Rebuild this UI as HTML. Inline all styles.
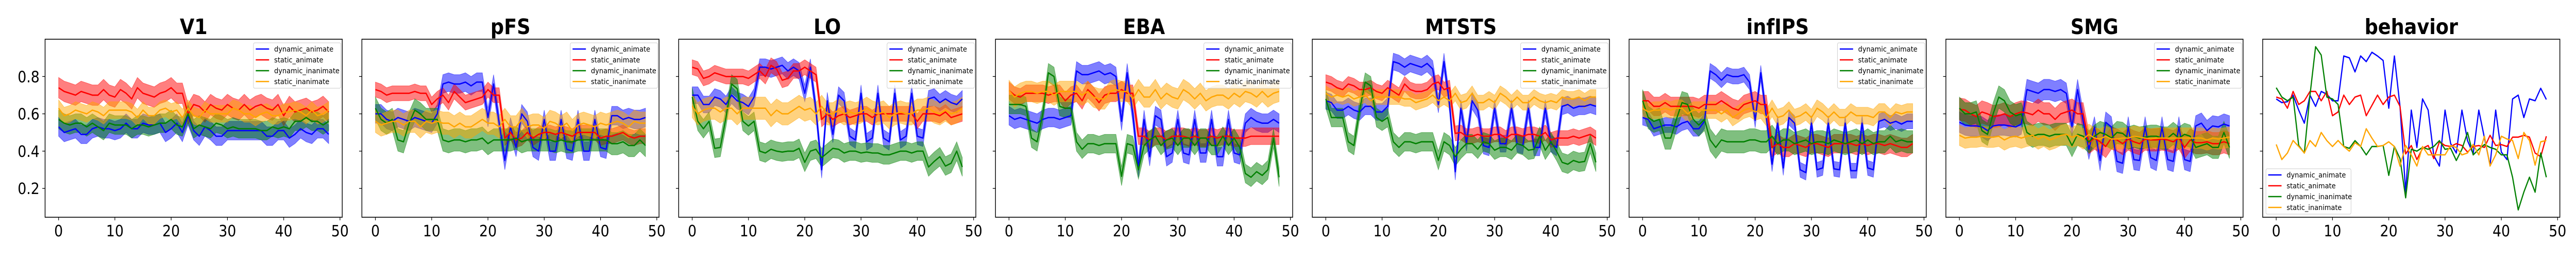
<!DOCTYPE html>
<html><head><meta charset="utf-8"><meta name="viewport" content="width=5600, initial-scale=1"><style>
html,body{margin:0;padding:0;background:#fff;width:100%;height:100%;overflow:hidden}
svg{display:block;width:100vw;height:100vh}
text{font-family:"DejaVu Sans","Liberation Sans",sans-serif}
</style></head><body>
<svg id="c" viewBox="0 0 5600 500" preserveAspectRatio="none" xmlns="http://www.w3.org/2000/svg"></svg>
<script>
const panelNames = ["V1","pFS","LO","EBA","MTSTS","infIPS","SMG","behavior"];
const seriesNames = ["dynamic_animate","static_animate","dynamic_inanimate","static_inanimate"];
const seriesColors = ["#0000ff","#ff0000","#008000","#ffa500"];
const xTicks = [0,10,20,30,40,50];
const yTicks = [0.2,0.4,0.6,0.8];
const yTickLabels = ["0.2","0.4","0.6","0.8"];

const V1_blue=[0.53,0.50,0.51,0.52,0.49,0.49,0.52,0.53,0.52,0.52,0.51,0.52,0.55,0.52,0.52,0.55,0.54,0.54,0.55,0.50,0.52,0.55,0.50,0.59,0.51,0.48,0.53,0.51,0.48,0.48,0.51,0.51,0.51,0.51,0.51,0.51,0.51,0.48,0.48,0.51,0.51,0.47,0.49,0.52,0.50,0.49,0.52,0.52,0.49];
const V1_red=[0.74,0.72,0.71,0.70,0.72,0.71,0.70,0.70,0.73,0.70,0.69,0.73,0.71,0.68,0.74,0.71,0.70,0.69,0.71,0.72,0.74,0.71,0.71,0.60,0.65,0.64,0.61,0.65,0.63,0.62,0.65,0.63,0.62,0.65,0.62,0.64,0.65,0.63,0.62,0.65,0.59,0.64,0.61,0.62,0.63,0.61,0.62,0.64,0.61];
const V1_green=[0.57,0.55,0.54,0.55,0.55,0.53,0.55,0.53,0.51,0.55,0.54,0.54,0.54,0.52,0.54,0.54,0.53,0.54,0.55,0.55,0.57,0.54,0.53,0.60,0.52,0.54,0.53,0.52,0.55,0.54,0.52,0.53,0.52,0.52,0.52,0.52,0.51,0.51,0.53,0.52,0.53,0.52,0.56,0.56,0.58,0.56,0.56,0.54,0.56];
const V1_orange=[0.63,0.59,0.60,0.62,0.61,0.60,0.62,0.61,0.59,0.62,0.62,0.62,0.62,0.61,0.58,0.62,0.59,0.59,0.62,0.63,0.61,0.62,0.58,0.63,0.59,0.58,0.62,0.60,0.60,0.60,0.60,0.63,0.62,0.60,0.60,0.58,0.60,0.61,0.59,0.59,0.61,0.61,0.62,0.61,0.59,0.62,0.59,0.60,0.62];

const pFS_blue=[0.60,0.60,0.57,0.56,0.58,0.57,0.56,0.58,0.57,0.56,0.55,0.60,0.76,0.77,0.76,0.76,0.77,0.75,0.77,0.77,0.58,0.76,0.55,0.35,0.53,0.42,0.60,0.56,0.42,0.40,0.57,0.40,0.40,0.57,0.41,0.40,0.57,0.40,0.40,0.57,0.42,0.41,0.59,0.59,0.57,0.58,0.57,0.57,0.58];
const pFS_red=[0.73,0.72,0.70,0.71,0.71,0.71,0.71,0.72,0.71,0.71,0.65,0.68,0.70,0.66,0.72,0.69,0.66,0.67,0.68,0.69,0.73,0.70,0.70,0.47,0.50,0.46,0.47,0.50,0.47,0.49,0.50,0.50,0.49,0.50,0.49,0.48,0.50,0.50,0.50,0.50,0.47,0.48,0.48,0.49,0.50,0.48,0.47,0.48,0.48];
const pFS_green=[0.63,0.57,0.55,0.57,0.46,0.45,0.55,0.62,0.60,0.57,0.57,0.57,0.46,0.45,0.46,0.46,0.45,0.46,0.46,0.47,0.44,0.46,0.46,0.46,0.46,0.47,0.45,0.46,0.46,0.46,0.46,0.46,0.45,0.46,0.45,0.45,0.46,0.46,0.46,0.46,0.46,0.46,0.44,0.44,0.45,0.43,0.43,0.46,0.43];
const pFS_orange=[0.56,0.54,0.55,0.56,0.56,0.54,0.56,0.56,0.53,0.56,0.55,0.56,0.55,0.55,0.53,0.55,0.53,0.53,0.55,0.57,0.55,0.55,0.53,0.57,0.53,0.53,0.57,0.53,0.54,0.54,0.52,0.56,0.55,0.53,0.55,0.51,0.54,0.55,0.54,0.53,0.55,0.54,0.55,0.56,0.55,0.53,0.56,0.55,0.55];

const LO_blue=[0.70,0.70,0.65,0.65,0.69,0.68,0.65,0.70,0.67,0.66,0.64,0.69,0.85,0.85,0.84,0.85,0.86,0.83,0.85,0.83,0.71,0.85,0.62,0.30,0.67,0.49,0.70,0.67,0.48,0.46,0.71,0.45,0.47,0.71,0.47,0.45,0.71,0.46,0.48,0.71,0.48,0.47,0.68,0.69,0.66,0.68,0.66,0.65,0.68];
const LO_red=[0.85,0.84,0.79,0.80,0.82,0.81,0.80,0.80,0.80,0.80,0.79,0.81,0.83,0.80,0.86,0.84,0.78,0.79,0.83,0.83,0.85,0.83,0.81,0.57,0.60,0.57,0.59,0.60,0.58,0.59,0.60,0.60,0.58,0.60,0.60,0.60,0.60,0.60,0.60,0.60,0.56,0.60,0.60,0.60,0.59,0.61,0.58,0.59,0.60];
const LO_green=[0.69,0.56,0.52,0.56,0.415,0.42,0.58,0.76,0.735,0.56,0.535,0.56,0.40,0.39,0.41,0.40,0.395,0.40,0.40,0.415,0.34,0.40,0.41,0.365,0.39,0.415,0.41,0.39,0.40,0.40,0.39,0.395,0.39,0.39,0.38,0.38,0.39,0.40,0.40,0.39,0.40,0.40,0.315,0.345,0.37,0.32,0.335,0.40,0.315];
const LO_orange=[0.64,0.60,0.62,0.63,0.63,0.61,0.63,0.63,0.60,0.63,0.63,0.63,0.63,0.63,0.59,0.62,0.60,0.60,0.62,0.64,0.62,0.63,0.60,0.64,0.60,0.60,0.62,0.60,0.61,0.60,0.61,0.63,0.61,0.60,0.61,0.58,0.60,0.61,0.60,0.60,0.62,0.62,0.63,0.61,0.60,0.62,0.60,0.61,0.63];

const EBA_blue=[0.59,0.57,0.58,0.57,0.56,0.55,0.57,0.58,0.58,0.57,0.58,0.59,0.83,0.81,0.81,0.82,0.83,0.81,0.82,0.80,0.56,0.82,0.60,0.31,0.57,0.37,0.59,0.57,0.37,0.39,0.57,0.39,0.38,0.57,0.39,0.39,0.57,0.37,0.37,0.57,0.39,0.38,0.55,0.58,0.56,0.55,0.55,0.57,0.55];
const EBA_red=[0.725,0.70,0.69,0.71,0.71,0.71,0.71,0.70,0.71,0.71,0.67,0.70,0.71,0.67,0.73,0.70,0.66,0.70,0.71,0.71,0.73,0.71,0.71,0.48,0.48,0.46,0.48,0.48,0.46,0.48,0.48,0.48,0.47,0.48,0.47,0.47,0.48,0.47,0.48,0.48,0.47,0.47,0.47,0.48,0.48,0.48,0.48,0.48,0.48];
const EBA_green=[0.65,0.65,0.65,0.64,0.47,0.45,0.60,0.82,0.80,0.64,0.63,0.63,0.45,0.41,0.44,0.44,0.43,0.44,0.44,0.44,0.265,0.44,0.43,0.30,0.43,0.46,0.48,0.43,0.46,0.47,0.43,0.47,0.47,0.43,0.47,0.47,0.43,0.43,0.48,0.43,0.47,0.42,0.28,0.26,0.29,0.27,0.30,0.47,0.26];
const EBA_orange=[0.725,0.69,0.71,0.72,0.72,0.71,0.72,0.72,0.70,0.72,0.72,0.72,0.72,0.70,0.72,0.69,0.68,0.68,0.72,0.73,0.72,0.72,0.68,0.73,0.69,0.69,0.73,0.68,0.71,0.69,0.68,0.73,0.71,0.68,0.71,0.67,0.69,0.70,0.70,0.68,0.71,0.69,0.72,0.71,0.69,0.72,0.69,0.71,0.72];

const MTSTS_blue=[0.67,0.66,0.62,0.62,0.64,0.62,0.61,0.64,0.64,0.61,0.61,0.64,0.88,0.87,0.85,0.87,0.86,0.85,0.87,0.84,0.65,0.88,0.65,0.29,0.63,0.445,0.67,0.62,0.43,0.42,0.63,0.44,0.44,0.63,0.44,0.43,0.63,0.42,0.42,0.63,0.44,0.42,0.64,0.65,0.63,0.64,0.64,0.65,0.64];
const MTSTS_red=[0.77,0.76,0.74,0.73,0.76,0.75,0.73,0.73,0.74,0.72,0.71,0.74,0.72,0.70,0.76,0.73,0.72,0.72,0.73,0.76,0.77,0.73,0.74,0.495,0.50,0.48,0.48,0.49,0.48,0.48,0.49,0.49,0.47,0.49,0.49,0.48,0.49,0.49,0.48,0.50,0.46,0.47,0.47,0.47,0.48,0.47,0.48,0.49,0.47];
const MTSTS_green=[0.68,0.58,0.58,0.58,0.45,0.43,0.62,0.77,0.75,0.58,0.56,0.58,0.45,0.42,0.45,0.45,0.44,0.45,0.45,0.45,0.35,0.45,0.43,0.37,0.41,0.44,0.44,0.41,0.45,0.44,0.405,0.42,0.42,0.405,0.44,0.43,0.405,0.41,0.48,0.405,0.45,0.40,0.34,0.33,0.35,0.34,0.345,0.44,0.34];
const MTSTS_orange=[0.71,0.69,0.70,0.69,0.70,0.68,0.69,0.70,0.67,0.69,0.69,0.69,0.69,0.69,0.68,0.68,0.66,0.67,0.68,0.70,0.67,0.69,0.67,0.71,0.66,0.67,0.71,0.66,0.66,0.68,0.66,0.71,0.69,0.66,0.69,0.66,0.66,0.69,0.67,0.66,0.67,0.66,0.69,0.68,0.68,0.69,0.67,0.69,0.69];

const infIPS_blue=[0.58,0.57,0.52,0.53,0.54,0.54,0.53,0.55,0.56,0.52,0.52,0.56,0.83,0.81,0.78,0.81,0.80,0.80,0.81,0.77,0.565,0.82,0.58,0.33,0.55,0.31,0.58,0.55,0.30,0.285,0.55,0.30,0.31,0.55,0.305,0.30,0.55,0.295,0.295,0.55,0.31,0.30,0.56,0.57,0.55,0.56,0.545,0.56,0.56];
const infIPS_red=[0.67,0.67,0.64,0.64,0.66,0.64,0.64,0.64,0.64,0.64,0.63,0.65,0.65,0.65,0.67,0.65,0.63,0.62,0.65,0.66,0.67,0.65,0.65,0.42,0.44,0.42,0.42,0.44,0.43,0.42,0.44,0.44,0.43,0.42,0.44,0.44,0.44,0.44,0.43,0.44,0.43,0.44,0.44,0.43,0.44,0.43,0.42,0.42,0.44];
const infIPS_green=[0.67,0.58,0.56,0.57,0.47,0.47,0.57,0.66,0.65,0.57,0.54,0.57,0.46,0.42,0.46,0.45,0.45,0.45,0.45,0.46,0.46,0.45,0.45,0.48,0.44,0.46,0.46,0.44,0.45,0.46,0.44,0.45,0.45,0.44,0.46,0.45,0.44,0.45,0.46,0.44,0.46,0.44,0.45,0.45,0.48,0.45,0.46,0.45,0.45];
const infIPS_orange=[0.63,0.61,0.62,0.62,0.63,0.62,0.63,0.63,0.60,0.62,0.62,0.62,0.62,0.62,0.60,0.62,0.58,0.60,0.62,0.63,0.61,0.62,0.58,0.63,0.58,0.59,0.62,0.58,0.59,0.61,0.58,0.63,0.61,0.58,0.61,0.58,0.58,0.61,0.59,0.59,0.59,0.58,0.61,0.61,0.58,0.61,0.60,0.61,0.61];

const SMG_blue=[0.555,0.54,0.535,0.535,0.53,0.51,0.535,0.54,0.54,0.535,0.53,0.545,0.73,0.72,0.71,0.73,0.73,0.72,0.73,0.71,0.53,0.73,0.56,0.41,0.53,0.35,0.555,0.53,0.345,0.335,0.53,0.355,0.35,0.53,0.365,0.35,0.53,0.355,0.345,0.53,0.355,0.345,0.535,0.55,0.51,0.535,0.53,0.545,0.535];
const SMG_red=[0.625,0.62,0.60,0.585,0.61,0.60,0.585,0.59,0.60,0.585,0.60,0.61,0.605,0.595,0.62,0.60,0.60,0.57,0.60,0.61,0.62,0.60,0.60,0.445,0.47,0.45,0.425,0.47,0.46,0.44,0.465,0.45,0.44,0.465,0.46,0.46,0.465,0.46,0.45,0.47,0.42,0.46,0.445,0.445,0.45,0.44,0.44,0.45,0.44];
const SMG_green=[0.63,0.60,0.60,0.61,0.51,0.49,0.60,0.69,0.67,0.61,0.59,0.60,0.50,0.48,0.49,0.49,0.48,0.49,0.49,0.49,0.43,0.49,0.48,0.45,0.48,0.50,0.49,0.47,0.50,0.495,0.47,0.48,0.47,0.475,0.48,0.48,0.47,0.47,0.495,0.47,0.49,0.48,0.42,0.43,0.44,0.42,0.42,0.50,0.42];
const SMG_orange=[0.485,0.47,0.475,0.475,0.48,0.475,0.475,0.48,0.46,0.475,0.48,0.47,0.48,0.485,0.465,0.48,0.46,0.47,0.485,0.49,0.475,0.485,0.465,0.49,0.47,0.465,0.48,0.465,0.465,0.47,0.47,0.48,0.475,0.47,0.465,0.47,0.47,0.47,0.47,0.47,0.47,0.47,0.47,0.47,0.46,0.47,0.465,0.47,0.475];

const behavior_blue=[0.68,0.66,0.665,0.70,0.62,0.55,0.70,0.64,0.72,0.705,0.67,0.67,0.91,0.90,0.825,0.91,0.88,0.93,0.91,0.886,0.63,0.91,0.64,0.18,0.62,0.42,0.68,0.62,0.376,0.32,0.62,0.44,0.39,0.62,0.456,0.385,0.62,0.47,0.325,0.62,0.395,0.355,0.68,0.70,0.58,0.68,0.67,0.737,0.677];
const behavior_red=[0.69,0.68,0.63,0.72,0.65,0.67,0.72,0.72,0.67,0.72,0.59,0.61,0.70,0.65,0.69,0.70,0.59,0.645,0.70,0.65,0.69,0.70,0.64,0.385,0.43,0.355,0.415,0.43,0.36,0.45,0.43,0.425,0.44,0.43,0.395,0.425,0.43,0.42,0.485,0.43,0.435,0.425,0.475,0.475,0.485,0.475,0.39,0.37,0.48];
const behavior_green=[0.74,0.69,0.67,0.69,0.43,0.39,0.70,0.96,0.915,0.69,0.68,0.65,0.425,0.415,0.456,0.425,0.38,0.425,0.425,0.43,0.27,0.425,0.36,0.15,0.41,0.40,0.42,0.41,0.425,0.456,0.41,0.415,0.35,0.41,0.50,0.38,0.41,0.435,0.42,0.41,0.38,0.38,0.26,0.085,0.18,0.26,0.18,0.39,0.26];
const behavior_orange=[0.436,0.355,0.39,0.457,0.425,0.39,0.457,0.425,0.50,0.456,0.425,0.457,0.425,0.40,0.445,0.425,0.52,0.47,0.425,0.43,0.45,0.425,0.32,0.43,0.38,0.32,0.425,0.38,0.38,0.38,0.38,0.43,0.42,0.38,0.39,0.436,0.38,0.48,0.32,0.38,0.48,0.465,0.457,0.36,0.50,0.457,0.325,0.45,0.457];

// error half-widths per panel: [blue, red, green, orange]
const V1_err=[0.05,0.055,0.05,0.045];
const pFS_err=[0.05,0.04,0.06,0.06];
const LO_err=[0.045,0.04,0.05,0.06];
const EBA_err=[0.05,0.045,0.05,0.055];
const MTSTS_err=[0.045,0.04,0.05,0.04];
const infIPS_err=[0.04,0.05,0.06,0.045];
const SMG_err=[0.055,0.06,0.06,0.055];
const behavior_err=[0,0,0,0];

const panelSeries=[
 [V1_blue,V1_red,V1_green,V1_orange],
 [pFS_blue,pFS_red,pFS_green,pFS_orange],
 [LO_blue,LO_red,LO_green,LO_orange],
 [EBA_blue,EBA_red,EBA_green,EBA_orange],
 [MTSTS_blue,MTSTS_red,MTSTS_green,MTSTS_orange],
 [infIPS_blue,infIPS_red,infIPS_green,infIPS_orange],
 [SMG_blue,SMG_red,SMG_green,SMG_orange],
 [behavior_blue,behavior_red,behavior_green,behavior_orange]];
const panelErr=[V1_err,pFS_err,LO_err,EBA_err,MTSTS_err,infIPS_err,SMG_err,behavior_err];

const NS="http://www.w3.org/2000/svg";
const svg=document.getElementById('c');
const TOP=76,H=345,W=646,X0=-2.4,X1=50.4,Y0=0.0456,Y1=1.0;
function mk(tag,attrs,parent){const e=document.createElementNS(NS,tag);for(const k in attrs)e.setAttribute(k,attrs[k]);(parent||svg).appendChild(e);return e;}

panelNames.forEach((name,p)=>{
  const L=98+688.7*p;
  const xs=v=>L+(v-X0)/(X1-X0)*W;
  const ys=v=>TOP+(Y1-v)/(Y1-Y0)*H;
  const g=mk('g',{});
  
  
  const t=mk('text',{x:L+W/2,y:66,'text-anchor':'middle','font-size':41,'font-weight':'bold'},g);
  t.textContent=name;
  
  
  const clip=mk('clipPath',{id:'cl'+p},g);
  mk('rect',{x:L,y:TOP,width:W,height:H},clip);
  const plot=mk('g',{'clip-path':'url(#cl'+p+')'},g);
  const ser=panelSeries[p],err=panelErr[p];
  ser.forEach((arr,s)=>{
    if(!err[s])return;
    let up=arr.map((v,i)=>xs(i).toFixed(1)+','+ys(v+err[s]).toFixed(1));
    let dn=arr.map((v,i)=>xs(i).toFixed(1)+','+ys(v-err[s]).toFixed(1)).reverse();
    const b=mk('polygon',{points:up.concat(dn).join(' '),fill:seriesColors[s],'fill-opacity':0.5,stroke:seriesColors[s],'stroke-opacity':0.5,'stroke-width':1},plot);
    
    
  });
  ser.forEach((arr,s)=>{
    const pts=arr.map((v,i)=>xs(i).toFixed(1)+','+ys(v).toFixed(1)).join(' ');
    const l=mk('polyline',{points:pts,fill:'none',stroke:seriesColors[s],'stroke-width':2.6,'stroke-linejoin':'round'},plot);
    
    
  });
  const fr=mk('rect',{x:L,y:TOP,width:W,height:H,fill:'none',stroke:'#000','stroke-width':1.6},g);
  
  
  xTicks.forEach(v=>{
    const x=xs(v);
    mk('line',{x1:x,x2:x,y1:TOP+H,y2:TOP+H+6,stroke:'#000','stroke-width':1.3},g);
    const tl=mk('text',{x:x,y:TOP+H+37,'text-anchor':'middle','font-size':30},g);
    tl.textContent=v;
    
    
  });
  yTicks.forEach((v,k)=>{
    const y=ys(v);
    mk('line',{x1:L-6,x2:L,y1:y,y2:y,stroke:'#000','stroke-width':1.3},g);
    if(p===0){
      const tl=mk('text',{x:L-12,y:y+11,'text-anchor':'end','font-size':30},g);
      tl.textContent=yTickLabels[k];
      
      
    }
  });
  let lx,ly;
  if(p===7){lx=L+7;ly=327;}else{lx=L+W-193;ly=83;}
  const lg=mk('g',{},g);
  
  
  mk('rect',{x:lx,y:ly,width:p===7?185:190,height:88,rx:3,fill:'#fff','fill-opacity':0.8,stroke:'#ccc','stroke-width':1},lg);
  seriesNames.forEach((sn,s)=>{
    const yy=ly+12+s*21;
    const e=mk('g',{},lg);
    
    
    mk('line',{x1:lx+5,x2:lx+34,y1:yy,y2:yy,stroke:seriesColors[s],'stroke-width':2.6},e);
    const tx=mk('text',{x:lx+45,y:yy+5,'font-size':14.5},e);
    tx.textContent=sn;
  });
});
</script>
</body></html>
